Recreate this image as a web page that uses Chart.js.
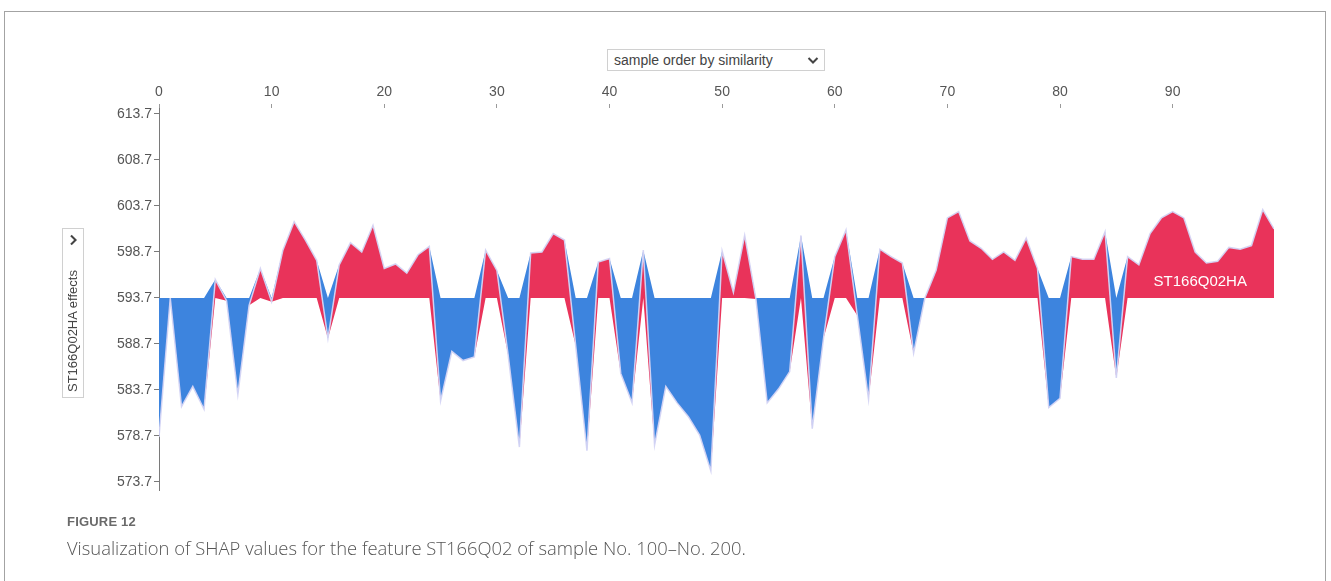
<!DOCTYPE html>
<html>
<head>
<meta charset="utf-8">
<script src="https://cdn.jsdelivr.net/npm/chart.js@4/dist/chart.umd.min.js"></script>
<style>
  html, body { margin: 0; padding: 0; background: #fff; }
  body { width: 1331px; height: 581px; position: relative; overflow: hidden; font-family: "Liberation Sans", Arial, sans-serif; }
  #frame { position: absolute; left: 4px; top: 11px; width: 1322px; height: 620px; border: 1px solid #a3a3a3; box-sizing: border-box; }
  #chart { position: absolute; left: 0; top: 0; }
  #order { position: absolute; left: 607px; top: 49px; width: 218px; height: 22px; box-sizing: border-box;
           border: 1px solid #d0d0d0; background: #fff; color: #444; font-size: 14px; line-height: 20px; padding-left: 6px; }
  #order svg { position: absolute; right: 5px; top: 6px; }
  #yselect { position: absolute; left: -12px; top: 302px; width: 170px; height: 22px; box-sizing: border-box;
             transform: rotate(-90deg); transform-origin: 85px 11px;
             border: 1px solid #d0d0d0; background: #fff; color: #444; font-size: 13px; line-height: 20px; padding-left: 5px; }
  #yselect svg { position: absolute; right: 5px; top: 6px; }
  #figlabel { position: absolute; left: 67px; top: 514px; font-family: "Liberation Sans Narrow", "Liberation Sans", Arial, sans-serif;
              font-weight: bold; font-size: 13px; color: #6a6a6a; letter-spacing: 0.2px; }
  #caption { position: absolute; left: 67px; top: 535px; font-family: "Open Sans", "Noto Sans", sans-serif; font-weight: 300;
             font-size: 18.4px; color: #555; }
</style>
</head>
<body>
<div id="frame"></div>
<canvas id="chart" width="1331" height="581"></canvas>
<div id="order">sample order by similarity
  <svg width="12" height="9" viewBox="0 0 12 9"><path d="M1.5 2 L6 6.5 L10.5 2" fill="none" stroke="#444" stroke-width="2"/></svg>
</div>
<div id="yselect">ST166Q02HA effects
  <svg width="12" height="9" viewBox="0 0 12 9"><path d="M1.5 2 L6 6.5 L10.5 2" fill="none" stroke="#444" stroke-width="2"/></svg>
</div>
<div id="figlabel">FIGURE 12</div>
<div id="caption">Visualization of SHAP values for the feature ST166Q02 of sample No. 100–No. 200.</div>

<script>
// Model output with the ST166Q02HA effect, samples ordered by similarity
const featureName = 'ST166Q02HA';
const baseValue = 593.7;
const effects = [
  578.6, 593.7, 581.9, 584.1, 581.6, 595.7, 593.4, 583.2, 592.9, 596.9,
  593.3, 598.9, 602.0, 600.0, 597.8, 589.3, 597.3, 599.7, 598.7, 601.6,
  596.9, 597.4, 596.4, 598.4, 599.3, 582.5, 587.9, 586.9, 587.3, 598.9,
  596.7, 587.5, 577.5, 598.6, 598.7, 600.7, 600.0, 588.5, 577.1, 597.6,
  598.0, 585.5, 582.3, 598.9, 577.7, 584.1, 582.3, 580.8, 578.8, 574.9,
  598.8, 594.3, 600.5, 593.6, 582.3, 583.8, 585.7, 600.5, 579.5, 589.3,
  598.2, 601.1, 591.8, 582.7, 599.0, 598.2, 597.5, 587.7, 593.7, 596.7,
  602.4, 603.1, 599.9, 599.1, 597.9, 598.7, 597.8, 600.2, 596.9, 581.8,
  582.8, 598.2, 597.9, 597.9, 600.9, 585.0, 598.2, 597.3, 600.7, 602.4,
  603.1, 602.4, 598.7, 597.5, 597.7, 599.2, 599.0, 599.4, 603.3, 601.2
];
const xTicks = [0, 10, 20, 30, 40, 50, 60, 70, 80, 90];
const yTicks = [613.7, 608.7, 603.7, 598.7, 593.7, 588.7, 583.7, 578.7, 573.7];

const RED = '#e9335a';
const BLUE = '#3d84de';

const valueLine = effects.map((v, i) => ({ x: i, y: v }));
// lower edge of the positive (red) band and upper edge of the negative (blue) band
const redEdge = effects.map((v, i) => ({ x: i, y: Math.min(v, baseValue) }));
const blueEdge = effects.map((v, i) => ({ x: i, y: Math.max(v, baseValue) }));

const inlineLabel = {
  id: 'inlineLabel',
  afterDatasetsDraw(chart) {
    const { ctx, scales } = chart;
    ctx.save();
    ctx.fillStyle = '#ffffff';
    ctx.font = '15px "Liberation Sans", Arial, sans-serif';
    ctx.textAlign = 'center';
    ctx.textBaseline = 'middle';
    ctx.fillText(featureName, scales.x.getPixelForValue(92.45), scales.y.getPixelForValue(595.45));
    ctx.restore();
  }
};

new Chart(document.getElementById('chart'), {
  type: 'line',
  data: {
    datasets: [
      { data: valueLine, borderColor: 'rgba(212,212,244,0.95)', borderWidth: 1.5, pointRadius: 0, fill: false, tension: 0, order: 0 },
      { data: redEdge, borderWidth: 0, pointRadius: 0, tension: 0, backgroundColor: RED, fill: { target: 0 }, order: 2 },
      { data: blueEdge, borderWidth: 0, pointRadius: 0, tension: 0, backgroundColor: BLUE, fill: { target: 0 }, order: 1 }
    ]
  },
  options: {
    responsive: false,
    animation: false,
    devicePixelRatio: 1,
    layout: { padding: { left: 0, right: 57, top: 0, bottom: 91 } },
    plugins: { legend: { display: false }, tooltip: { enabled: false } },
    scales: {
      x: {
        type: 'linear', position: 'top', min: 0, max: 99,
        afterBuildTicks(scale) { scale.ticks = xTicks.map(v => ({ value: v })); },
        afterFit(scale) { scale.height = 108; },
        border: { display: false },
        grid: { drawOnChartArea: false, drawTicks: true, tickLength: 4, color: '#9a9a9a' },
        ticks: { color: '#555', font: { size: 14, family: '"Liberation Sans", Arial, sans-serif' }, padding: 3, maxRotation: 0 }
      },
      y: {
        type: 'linear', min: 572.83, max: 614.35,
        afterBuildTicks(scale) { scale.ticks = yTicks.map(v => ({ value: v })); },
        afterFit(scale) { scale.width = 159; },
        border: { display: true, color: '#7a7a7a', width: 1 },
        grid: { drawOnChartArea: false, drawTicks: true, tickLength: 5, color: '#7a7a7a' },
        ticks: { color: '#555', font: { size: 14, family: '"Liberation Sans", Arial, sans-serif' }, padding: 2,
                 callback: v => v.toFixed(1) }
      }
    }
  },
  plugins: [inlineLabel]
});
</script>
</body>
</html>
